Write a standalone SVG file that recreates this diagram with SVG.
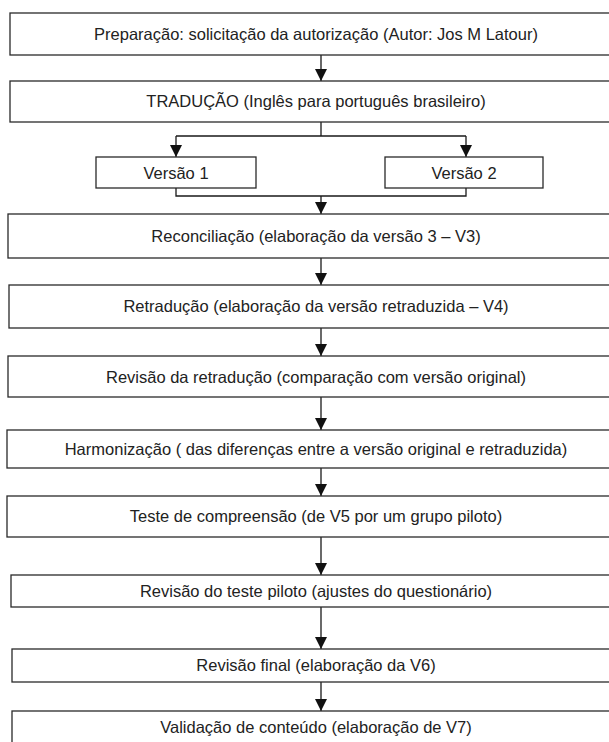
<svg xmlns="http://www.w3.org/2000/svg" width="609" height="742" viewBox="0 0 609 742">
<style>
.box{fill:#fff;stroke:#2a2a2a;stroke-width:1.3}
.t{font-family:"Liberation Sans",Arial,sans-serif;font-size:16.5px;fill:#222;text-anchor:middle}
.c{fill:none;stroke:#1a1a1a;stroke-width:1.3}
</style>
<defs>
<marker id="ah" viewBox="0 0 12 12" refX="12" refY="6" markerWidth="12" markerHeight="12" markerUnits="userSpaceOnUse" orient="auto">
<path d="M0,0 L12,6 L0,12 Z" fill="#111"/>
</marker>
</defs>
<rect width="609" height="742" fill="#fff"/>
<g id="connectors">
<path class="c" d="M321,55 V81" marker-end="url(#ah)"/>
<path class="c" d="M321,122 V136 M176,136 H466"/>
<path class="c" d="M176,136 V157" marker-end="url(#ah)"/>
<path class="c" d="M466,136 V157" marker-end="url(#ah)"/>
<path class="c" d="M176,188 V196 H466 V188"/>
<path class="c" d="M321,196 V214" marker-end="url(#ah)"/>
<path class="c" d="M321,258 V285" marker-end="url(#ah)"/>
<path class="c" d="M321,328 V356" marker-end="url(#ah)"/>
<path class="c" d="M321,397 V430" marker-end="url(#ah)"/>
<path class="c" d="M321,468 V496" marker-end="url(#ah)"/>
<path class="c" d="M321,537 V575" marker-end="url(#ah)"/>
<path class="c" d="M321,607 V649" marker-end="url(#ah)"/>
<path class="c" d="M321,682 V711" marker-end="url(#ah)"/>
</g>
<g id="n1"><rect class="box" x="10" y="13" width="610" height="42"/><text class="t" x="316" y="40">Preparação: solicitação da autorização (Autor: Jos M Latour)</text></g>
<g id="n2"><rect class="box" x="10" y="81" width="610" height="41"/><text class="t" x="316" y="107">TRADUÇÃO (Inglês para português brasileiro)</text></g>
<g id="v1"><rect class="box" x="96" y="157" width="160" height="31"/><text class="t" x="176" y="179">Versão 1</text></g>
<g id="v2"><rect class="box" x="385" y="157" width="158" height="31"/><text class="t" x="464" y="179">Versão 2</text></g>
<g id="n3"><rect class="box" x="8" y="214" width="612" height="44"/><text class="t" x="316" y="242">Reconciliação (elaboração da versão 3 – V3)</text></g>
<g id="n4"><rect class="box" x="9" y="285" width="611" height="43"/><text class="t" x="316" y="312">Retradução (elaboração da versão retraduzida – V4)</text></g>
<g id="n5"><rect class="box" x="8" y="356" width="612" height="41"/><text class="t" x="316" y="383">Revisão da retradução (comparação com versão original)</text></g>
<g id="n6"><rect class="box" x="7" y="430" width="613" height="38"/><text class="t" x="316" y="455">Harmonização ( das diferenças entre a versão original e retraduzida)</text></g>
<g id="n7"><rect class="box" x="7" y="496" width="613" height="41"/><text class="t" x="316" y="522">Teste de compreensão (de V5 por um grupo piloto)</text></g>
<g id="n8"><rect class="box" x="11" y="575" width="609" height="32"/><text class="t" x="316" y="597">Revisão do teste piloto (ajustes do questionário)</text></g>
<g id="n9"><rect class="box" x="12" y="649" width="608" height="33"/><text class="t" x="316" y="671">Revisão final (elaboração da V6)</text></g>
<g id="n10"><rect class="box" x="12" y="711" width="608" height="40"/><text class="t" x="316" y="733">Validação de conteúdo (elaboração de V7)</text></g>
</svg>
